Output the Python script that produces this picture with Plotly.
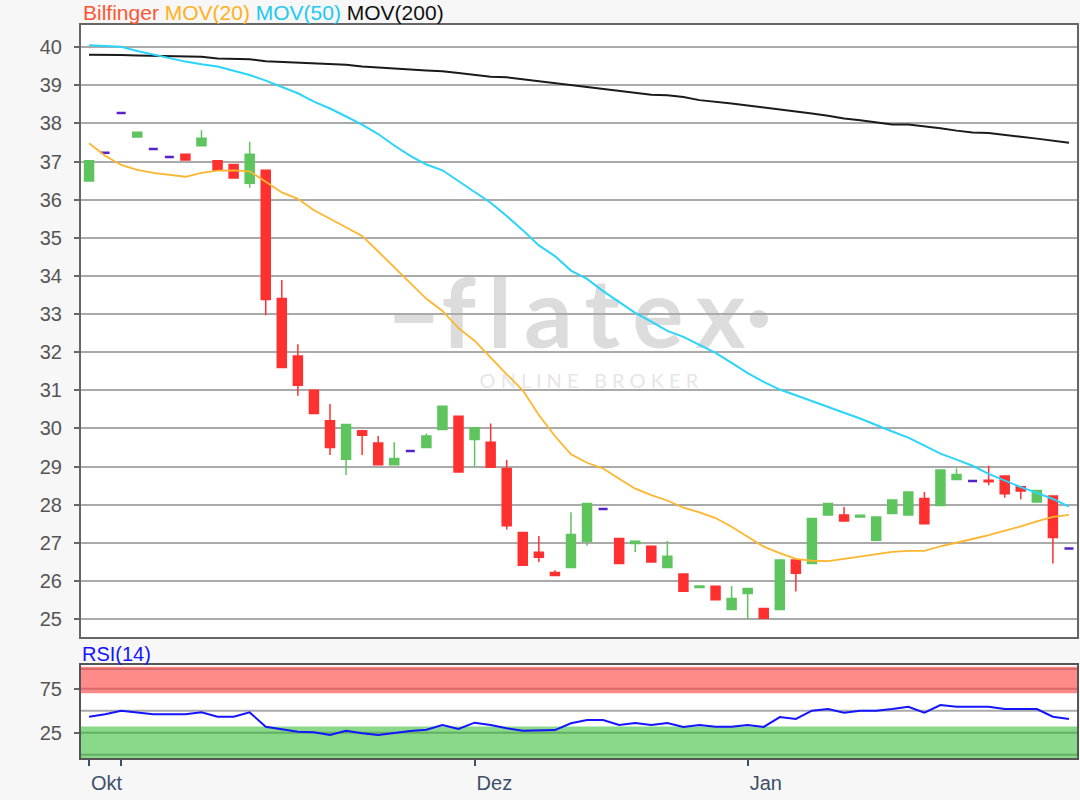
import plotly.graph_objects as go

# ---------------- data ----------------
day_index = list(range(62))

opens = [36.49, 37.23, 38.27, 37.64, 37.33, 37.12, 37.19, 37.41, 37.02, 36.92,
         36.43, 36.77, 33.41, 31.90, 31.00, 30.20, 29.19, 29.94, 29.62, 29.05,
         29.41, 29.50, 29.97, 30.32, 29.71, 29.64, 28.95, 27.27, 26.75, 26.22,
         26.35, 27.04, 27.89, 27.11, 26.98, 26.91, 26.35, 26.18, 25.83, 25.86,
         25.25, 25.67, 25.28, 25.25, 26.55, 26.46, 27.73, 27.73, 27.68, 27.07,
         27.77, 27.73, 28.16, 27.98, 28.66, 28.62, 28.64, 28.75, 28.47, 28.07,
         28.23, 26.85]
highs = [37.02, 37.23, 38.27, 37.77, 37.33, 37.12, 37.19, 37.82, 37.02, 36.92,
         37.52, 36.77, 33.89, 32.21, 31.00, 30.64, 30.10, 29.94, 29.80, 29.64,
         29.41, 29.87, 30.58, 30.32, 30.02, 30.13, 29.17, 27.27, 27.18, 26.28,
         27.80, 28.03, 27.89, 27.11, 27.04, 26.91, 27.05, 26.18, 25.87, 25.86,
         25.87, 25.80, 25.28, 26.55, 26.55, 27.64, 28.03, 27.94, 27.72, 27.68,
         28.12, 28.33, 28.33, 28.91, 28.95, 28.62, 29.02, 28.75, 28.47, 28.37,
         28.23, 26.85]
lows = [36.49, 37.23, 38.27, 37.64, 37.33, 37.12, 37.04, 37.41, 36.77, 36.57,
        36.31, 32.97, 31.60, 30.86, 30.39, 29.30, 28.78, 29.30, 29.05, 29.05,
        29.41, 29.50, 29.97, 28.86, 28.98, 28.98, 27.35, 26.41, 26.50, 26.14,
        26.35, 26.92, 27.89, 26.46, 26.76, 26.50, 26.35, 25.73, 25.83, 25.51,
        25.25, 24.99, 25.02, 25.25, 25.72, 26.46, 27.73, 27.57, 27.68, 27.07,
        27.77, 27.73, 27.50, 27.98, 28.66, 28.62, 28.51, 28.18, 28.14, 28.07,
        26.46, 26.85]
closes = [37.02, 37.23, 38.27, 37.77, 37.33, 37.12, 37.04, 37.61, 36.77, 36.57,
          37.19, 33.38, 31.60, 31.13, 30.39, 29.50, 30.10, 29.82, 29.05, 29.21,
          29.41, 29.80, 30.58, 28.86, 30.02, 28.98, 27.45, 26.41, 26.62, 26.14,
          27.22, 28.03, 27.89, 26.46, 27.04, 26.50, 26.65, 25.73, 25.87, 25.51,
          25.54, 25.80, 25.02, 26.55, 26.20, 27.64, 28.03, 27.57, 27.72, 27.68,
          28.12, 28.33, 27.50, 28.91, 28.79, 28.62, 28.60, 28.29, 28.36, 28.37,
          27.14, 26.85]

mov20 = [37.48, 37.15, 36.91, 36.78, 36.70, 36.65, 36.60, 36.70, 36.76, 36.77,
         36.74, 36.47, 36.19, 36.02, 35.72, 35.50, 35.27, 35.05, 34.64, 34.22,
         33.80, 33.40, 33.08, 32.63, 32.30, 31.85, 31.42, 31.00, 30.35, 29.80,
         29.32, 29.10, 28.95, 28.68, 28.42, 28.25, 28.11, 27.92, 27.80, 27.65,
         27.42, 27.16, 26.90, 26.73, 26.58, 26.53, 26.52, 26.58, 26.64, 26.71,
         26.76, 26.79, 26.79, 26.91, 27.00, 27.10, 27.20, 27.31, 27.43, 27.56,
         27.68, 27.73]
mov50 = [40.05, 40.03, 40.01, 39.90, 39.80, 39.70, 39.62, 39.55, 39.49, 39.38,
         39.27, 39.12, 38.96, 38.79, 38.57, 38.39, 38.18, 37.97, 37.72, 37.42,
         37.15, 36.92, 36.77, 36.49, 36.22, 35.92, 35.57, 35.20, 34.80, 34.52,
         34.14, 33.92, 33.60, 33.32, 33.03, 32.80, 32.56, 32.40, 32.18, 31.98,
         31.72, 31.45, 31.22, 31.02, 30.87, 30.71, 30.56, 30.41, 30.26, 30.08,
         29.92, 29.76, 29.54, 29.34, 29.18, 29.02, 28.81, 28.63, 28.46, 28.31,
         28.15, 27.95]
mov200 = [39.80, 39.80, 39.79, 39.78, 39.77, 39.76, 39.76, 39.75, 39.70, 39.69,
          39.68, 39.63, 39.61, 39.59, 39.57, 39.56, 39.54, 39.49, 39.46, 39.43,
          39.41, 39.39, 39.37, 39.32, 39.27, 39.22, 39.21, 39.16, 39.11, 39.06,
          39.01, 38.96, 38.91, 38.85, 38.80, 38.75, 38.74, 38.69, 38.61, 38.57,
          38.52, 38.47, 38.42, 38.36, 38.31, 38.26, 38.20, 38.13, 38.08, 38.03,
          37.97, 37.97, 37.93, 37.87, 37.81, 37.76, 37.75, 37.71, 37.65, 37.60,
          37.55, 37.49]
rsi14 = [43.2, 45.9, 50.0, 48.1, 45.9, 45.9, 45.9, 48.1, 43.2, 43.2,
         48.1, 31.8, 28.9, 26.1, 25.4, 22.4, 27.3, 24.3, 22.4, 25.0,
         26.9, 28.4, 33.8, 29.2, 36.4, 33.8, 30.0, 27.3, 27.3, 28.0,
         35.7, 39.4, 39.4, 33.8, 36.0, 33.8, 36.0, 31.5, 33.8, 31.8,
         31.8, 33.8, 31.5, 42.8, 40.6, 50.0, 51.9, 47.7, 50.0, 50.0,
         51.9, 54.5, 47.7, 56.5, 54.5, 54.5, 54.5, 51.9, 51.9, 51.9,
         43.2, 40.6]

price_ticks = list(range(25, 41))
month_tick_idx = [0, 2, 24, 41]
month_tick_text = ["Okt", "", "Dez", "Jan"]
rsi_ticks = [25, 75]

# ---------------- styles ----------------
GREEN = "#5ec55e"
RED = "#ff3030"
PURPLE = "#5522cc"
FONT = "Liberation Sans, Arial, sans-serif"

fig = go.Figure()


def subset(cond):
    ids = [i for i in day_index if cond(opens[i], closes[i])]
    return (ids, [opens[i] for i in ids], [highs[i] for i in ids],
            [lows[i] for i in ids], [closes[i] for i in ids])


for cond, col, lw in [(lambda o, c: c > o, GREEN, 1.5),
                      (lambda o, c: c < o, RED, 1.5),
                      (lambda o, c: c == o, PURPLE, 2.5)]:
    xs, o, h, l, c = subset(cond)
    fig.add_trace(go.Candlestick(
        x=xs, open=o, high=h, low=l, close=c,
        increasing=dict(line=dict(color=col, width=lw), fillcolor=col),
        decreasing=dict(line=dict(color=col, width=lw), fillcolor=col),
        whiskerwidth=0, showlegend=False, hoverinfo="skip",
        xaxis="x", yaxis="y"))

fig.add_trace(go.Scatter(x=day_index, y=mov200, mode="lines",
                         line=dict(color="#1a1a1a", width=2), hoverinfo="skip",
                         showlegend=False))
fig.add_trace(go.Scatter(x=day_index, y=mov50, mode="lines",
                         line=dict(color="#2ad4fa", width=2), hoverinfo="skip",
                         showlegend=False))
fig.add_trace(go.Scatter(x=day_index, y=mov20, mode="lines",
                         line=dict(color="#ffb52e", width=1.8), hoverinfo="skip",
                         showlegend=False))

fig.add_trace(go.Scatter(x=day_index, y=rsi14, mode="lines",
                         line=dict(color="#1414ff", width=2), hoverinfo="skip",
                         showlegend=False, xaxis="x2", yaxis="y2"))

TS = "\u2009"
shapes = [
    # RSI bands
    dict(type="rect", xref="x2 domain", yref="y2", x0=0, x1=1, y0=70, y1=100,
         fillcolor="#ff8a8a", line=dict(width=0), layer="below"),
    dict(type="line", xref="x2 domain", yref="y2", x0=0, x1=1, y0=97.5, y1=97.5,
         line=dict(color="#d86a6a", width=2), layer="below"),
    dict(type="line", xref="x2 domain", yref="y2", x0=0, x1=1, y0=75, y1=75,
         line=dict(color="#d86a6a", width=2), layer="below"),
    dict(type="rect", xref="x2 domain", yref="y2", x0=0, x1=1, y0=-3.8, y1=32,
         fillcolor="#8ad88a", line=dict(width=0), layer="below"),
    dict(type="line", xref="x2 domain", yref="y2", x0=0, x1=1, y0=25, y1=25,
         line=dict(color="#62b062", width=2), layer="below"),
    dict(type="line", xref="x2 domain", yref="y2", x0=0, x1=1, y0=0, y1=0,
         line=dict(color="#62b062", width=2), layer="below"),
    dict(type="line", xref="x2 domain", yref="y2", x0=0, x1=1, y0=50, y1=50,
         line=dict(color="#aaaaaa", width=2), layer="below"),
    # watermark
    dict(type="rect", xref="x domain", yref="y domain", x0=0.30, x1=0.70,
         y0=0.47, y1=0.60, line=dict(width=0), layer="below",
         label=dict(text="\u2013" + TS.join("flatex") + "\u00b7", textposition="middle center",
                    font=dict(size=96, color="#dcdcdc", family="Lato", weight="bold"))),
    dict(type="rect", xref="x domain", yref="y domain", x0=0.36, x1=0.66,
         y0=0.40, y1=0.44, line=dict(width=0), layer="below",
         label=dict(text="O N L I N E   B R O K E R", textposition="middle center",
                    font=dict(size=20, color="#e6e6e6", family="Lato"))),
]

annotations = [
    dict(xref="paper", yref="paper", x=81 / 1080, y=1 - 13 / 800, xanchor="left",
         yanchor="middle", showarrow=False,
         text=("<span style='color:#ff5533'>Bilfinger</span> "
               "<span style='color:#ffb020'>MOV(20)</span> "
               "<span style='color:#22c8f0'>MOV(50)</span> "
               "<span style='color:#111111'>MOV(200)</span>"),
         font=dict(size=21, family=FONT)),
    dict(xref="paper", yref="paper", x=80 / 1080, y=1 - 654 / 800, xanchor="left",
         yanchor="middle", showarrow=False, text="RSI(14)",
         font=dict(size=20, family=FONT, color="#1414ff")),
]

x_lo, x_hi = -0.5, 61.5
fig.update_layout(
    width=1080, height=800,
    margin=dict(l=0, r=0, t=0, b=0),
    paper_bgcolor="#f7f7f7", plot_bgcolor="#ffffff",
    font=dict(family=FONT, size=20, color="#555555"),
    boxgap=0.2,
    shapes=shapes, annotations=annotations,
    xaxis=dict(domain=[81 / 1080, 1077 / 1080], range=[x_lo, x_hi],
               showticklabels=False, ticks="", showgrid=False, zeroline=False,
               rangeslider=dict(visible=False), showline=True, mirror=True,
               linecolor="#666666", linewidth=2, anchor="y"),
    yaxis=dict(domain=[1 - 637 / 800, 1 - 25 / 800], range=[24.53, 40.58],
               tickvals=price_ticks, ticks="outside", ticklen=5, tickcolor="#666666",
               tickwidth=2, showgrid=True, gridcolor="#aaaaaa", gridwidth=2,
               zeroline=False, showline=True, mirror=True, linecolor="#666666",
               linewidth=2, tickfont=dict(size=20, color="#555555"),
               ticklabelstandoff=8, anchor="x"),
    xaxis2=dict(domain=[81 / 1080, 1077 / 1080], range=[x_lo, x_hi], anchor="y2",
                tickvals=month_tick_idx, ticktext=month_tick_text,
                ticks="outside", ticklen=6, tickwidth=2, tickcolor="#3d5068",
                ticklabelposition="outside right", ticklabelstandoff=6,
                tickfont=dict(size=20, color="#3d5068"),
                showgrid=False, zeroline=False, showline=True, mirror=True,
                linecolor="#555555", linewidth=2),
    yaxis2=dict(domain=[1 - 758 / 800, 1 - 665 / 800], range=[-3.8, 102],
                tickvals=rsi_ticks, ticks="outside", ticklen=5, tickwidth=2,
                tickcolor="#666666", showgrid=False, zeroline=False,
                showline=True, mirror=True, linecolor="#555555", linewidth=2,
                tickfont=dict(size=20, color="#555555"), ticklabelstandoff=8,
                anchor="x2"),
)

fig.write_html("out.html", config={"displayModeBar": False},
               post_script="document.body.style.margin='0';")
